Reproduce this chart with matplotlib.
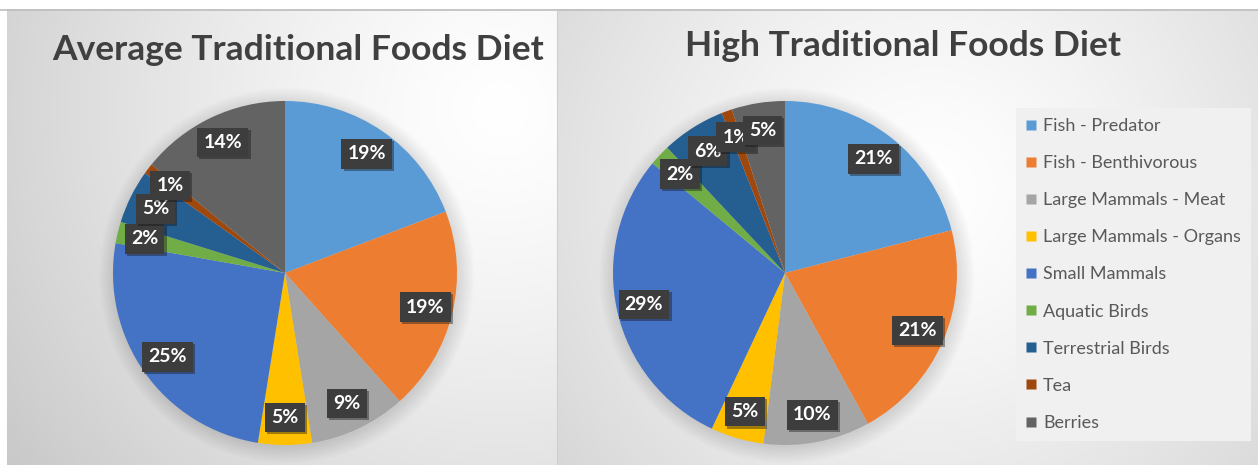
import numpy as np
import matplotlib
matplotlib.use('Agg')
import matplotlib.pyplot as plt
import matplotlib.patheffects as pe
from matplotlib.lines import Line2D
from matplotlib.patches import Circle

# data
categories = ['Fish - Predator', 'Fish - Benthivorous', 'Large Mammals - Meat',
              'Large Mammals - Organs', 'Small Mammals', 'Aquatic Birds',
              'Terrestrial Birds', 'Tea', 'Berries']
average_diet = [19, 19, 9, 5, 25, 2, 5, 1, 14]
high_diet = [21, 21, 10, 5, 29, 2, 6, 1, 5]
titles = ['Average Traditional Foods Diet', 'High Traditional Foods Diet']

colors = ['#5B9BD5', '#ED7D31', '#A5A5A5', '#FFC000', '#4472C4',
          '#70AD47', '#255E91', '#9E480E', '#636363']

plt.rcParams['font.family'] = ['Lato', 'DejaVu Sans']

W, H = 1258, 465
fig = plt.figure(figsize=(W / 100, H / 100), dpi=100)

# background: two panels with radial gradients
bg = fig.add_axes([0, 0, 1, 1])
yy, xx = np.mgrid[0:H, 0:W]


def radial(cx, cy, R, edge):
    d = np.sqrt((xx - cx) ** 2 + (yy - cy) ** 2)
    t = np.clip(d / R, 0, 1) ** 1.3
    return 1 - t * (1 - edge)


left = radial(500, 110, 620, 0.78)
right = radial(930, 190, 560, 0.80)
shade = np.where(xx < 557, left, right)
shade[yy < 10] = 1.0
shade[xx < 7] = 1.0
img = np.dstack([shade, shade, shade])
bg.imshow(img, extent=[0, W, H, 0], aspect='auto')
bg.plot([0, W], [10, 10], color='#bdbdbd', lw=1.2)
bg.plot([557, 557], [10, H], color='#cfcfcf', lw=0.8)
bg.set_xlim(0, W)
bg.set_ylim(H, 0)
bg.axis('off')


def draw_pie(cx, cy, r, values, title, tx, ty):
    ax = fig.add_axes([(cx - r) / W, (H - cy - r) / H, 2 * r / W, 2 * r / H])
    # soft shadow around the pie
    for i in range(10):
        ax.add_patch(Circle((0.01, -0.015), 1 + 0.01 * i, color='black',
                            alpha=0.01, lw=0, zorder=0))
    wedges, _ = ax.pie(values, colors=colors, startangle=90, counterclock=False,
                       radius=1, wedgeprops=dict(linewidth=0))
    for w, v in zip(wedges, values):
        ang = np.deg2rad((w.theta1 + w.theta2) / 2)
        t = ax.text(0.84 * np.cos(ang), 0.84 * np.sin(ang), f'{v}%',
                    ha='center', va='center', color='white', fontsize=14,
                    fontweight='bold', zorder=5,
                    bbox=dict(boxstyle='square,pad=0.32', fc='#3d3d3d', ec='none'))
        t.get_bbox_patch().set_path_effects(
            [pe.SimplePatchShadow(offset=(1.5, -1.5), alpha=0.4), pe.Normal()])
    ax.set_aspect('equal')
    ax.set_xlim(-1.25, 1.25)
    ax.set_ylim(-1.25, 1.25)
    ax.axis('off')
    fig.text(tx / W, 1 - ty / H, title, ha='center', va='center',
             fontsize=25.5, fontweight='bold', color='#404040')


r_px = 172 * 1.25
draw_pie(285, 273, r_px, average_diet, titles[0], 298, 50)
draw_pie(785, 273, r_px, high_diet, titles[1], 903, 46)

handles = [Line2D([0], [0], marker='s', color='none', markerfacecolor=c,
                  markeredgecolor='none', markersize=7.5) for c in colors]
leg = fig.legend(handles, categories, loc='upper left',
                 bbox_to_anchor=(1016 / W, 1 - 108 / H), frameon=True,
                 fontsize=13, labelspacing=1.17, handlelength=0.6,
                 handletextpad=0.35, borderpad=0.55, borderaxespad=0)
leg.get_frame().set_facecolor('#f0f0f0')
leg.get_frame().set_edgecolor('none')
leg.get_frame().set_alpha(1)
leg.get_frame().set_boxstyle('square', pad=0)
for txt in leg.get_texts():
    txt.set_color('#595959')

fig.savefig('out.png', dpi=100)
